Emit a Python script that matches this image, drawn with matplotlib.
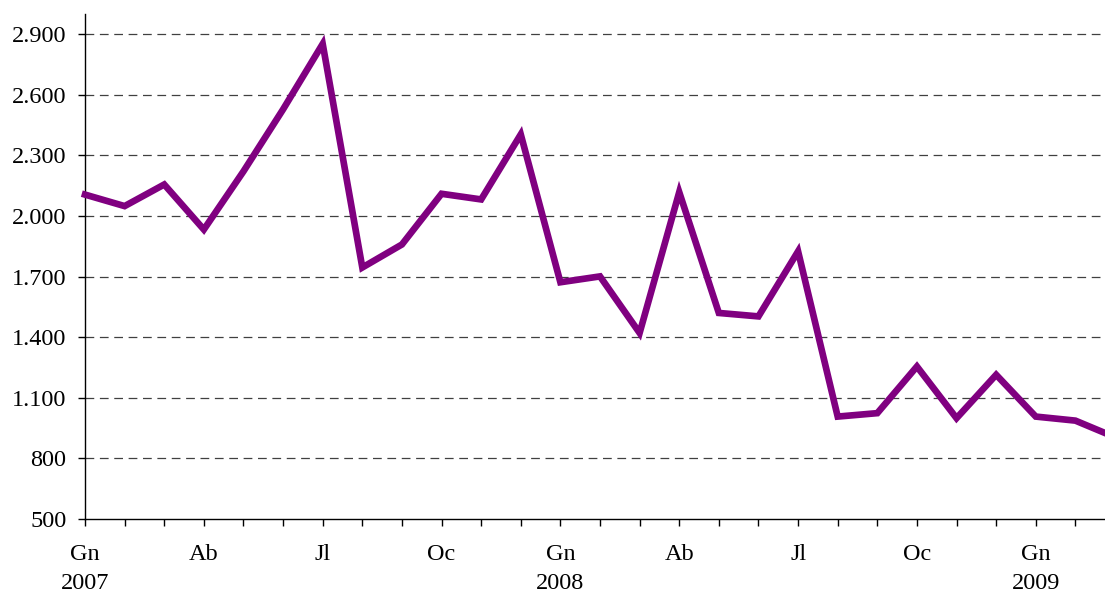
import matplotlib.pyplot as plt

plt.rcParams['font.family'] = ['Liberation Serif', 'DejaVu Serif']

# monthly values, Jan 2007 - Mar 2009
months = ['Gn', 'Fb', 'Mç', 'Ab', 'Mg', 'Jn', 'Jl', 'Ag', 'St', 'Oc', 'Nv', 'Ds'] * 2 + ['Gn', 'Fb', 'Mç']
years = ['2007'] + [''] * 11 + ['2008'] + [''] * 11 + ['2009', '', '']
values = [2106, 2049, 2156, 1933, 2221, 2528, 2852, 1745, 1859, 2110, 2082, 2404,
          1672, 1701, 1421, 2118, 1520, 1503, 1825, 1007, 1024, 1255, 999, 1214,
          1007, 987, 905]
yticks = [500, 800, 1100, 1400, 1700, 2000, 2300, 2600, 2900]
ytick_labels = ['500', '800', '1.100', '1.400', '1.700', '2.000', '2.300', '2.600', '2.900']
shown = ['Gn', 'Ab', 'Jl', 'Oc']

W, H = 1105, 596
fig = plt.figure(figsize=(W / 100, H / 100), dpi=100)
# axis runs past the right edge of the picture
ax = fig.add_axes([85 / W, 1 - 519 / H, (1115 - 85) / W, (519 - 14) / H])

x = list(range(len(values)))
ax.plot(x, values, color='#800080', linewidth=4.8, solid_joinstyle='miter', clip_on=False, zorder=3)

ax.set_ylim(500, 3000)
ax.set_xlim(0, len(values) - 1)
ax.set_yticks(yticks)
ax.set_yticklabels(ytick_labels)
for y in yticks[1:]:
    ax.axhline(y, color='#404040', linewidth=0.9, dashes=(7, 4.5), zorder=1)

labels = []
for m, yr in zip(months, years):
    if m in shown:
        labels.append(m + ('\n' + yr if yr else ''))
    else:
        labels.append('')
ax.set_xticks(x)
ax.set_xticklabels(labels, linespacing=1.5)

ax.spines['top'].set_visible(False)
ax.spines['right'].set_visible(False)
for s in ['left', 'bottom']:
    ax.spines[s].set_linewidth(1.0)
ax.tick_params(axis='x', direction='out', length=5, width=1, pad=13, labelsize=17.5)
ax.tick_params(axis='y', direction='out', length=5, width=1, pad=8.5, labelsize=17.5)

fig.savefig('out.png', dpi=100)
